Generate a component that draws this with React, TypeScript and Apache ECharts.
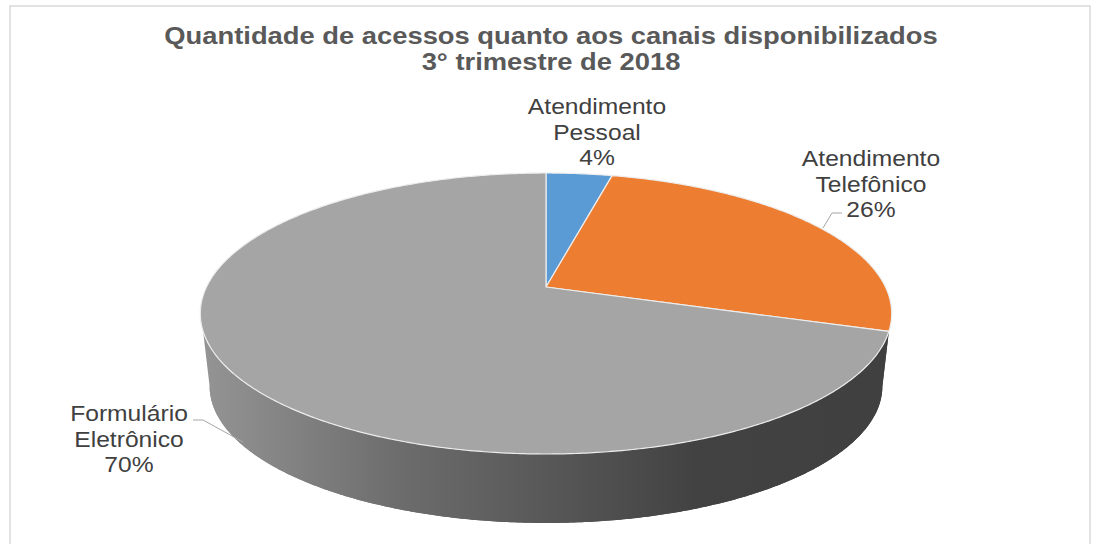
import React, { useEffect, useRef } from "react";
import * as echarts from "echarts";

const categories = ["Atendimento\nPessoal", "Atendimento\nTelefônico", "Formulário\nEletrônico"];
const values = [3.7, 26.3, 70];
const sliceColors = ["#5B9BD5", "#ED7D31", "#A5A5A5"];
const titleLines = ["Quantidade de acessos quanto aos canais disponibilizados", "3° trimestre de 2018"];

// Layout of the tilted disc (projective map of a circle)
const CX = 546, APEX_Y = 287, RX = 339.5, RY = 135.5, K = 0.1886;
const DROP_Y = 73.5, DROP_SCALE = 0.973;
const FRONT_FROM = 108, FRONT_TO = 252, FOOT_FROM = 101, FOOT_TO = 259;

const labelPlaces = [
  { x: 597, y: 132 },
  { x: 871, y: 184 },
  { x: 129, y: 439 },
];
const leaderLines = [
  null,
  [[823, 228], [832, 213], [842, 213]],
  [[193, 420], [203, 420], [243, 442]],
];

const total = values.reduce((a, b) => a + b, 0);
const starts = values.map((_, i) => (values.slice(0, i).reduce((a, b) => a + b, 0) / total) * 360);

function project(deg: number, scale = 1, dy = 0): number[] {
  const t = (deg * Math.PI) / 180;
  const u = Math.sin(t), v = Math.cos(t), w = 1 + K * v;
  return [CX + (scale * RX * u) / w, APEX_Y + dy - (scale * RY * v) / w];
}

function arc(from: number, to: number, scale = 1, dy = 0): number[][] {
  const steps = Math.max(2, Math.ceil(Math.abs(to - from) / 0.5));
  const pts: number[][] = [];
  for (let i = 0; i <= steps; i++) pts.push(project(from + ((to - from) * i) / steps, scale, dy));
  return pts;
}

const renderItem = (params: any, api: any) => {
  const i = params.dataIndex;
  const start = starts[i];
  const end = start + (api.value(0) / total) * 360;
  const children: any[] = [];

  const a = Math.max(start, FRONT_FROM), b = Math.min(end, FRONT_TO);
  if (b > a) {
    children.push({
      type: "polygon",
      shape: { points: [...arc(a, b), ...arc(FOOT_TO, FOOT_FROM, DROP_SCALE, DROP_Y)] },
      style: {
        fill: new echarts.graphic.LinearGradient(0, 0, 1, 0, [
          { offset: 0, color: "#949494" },
          { offset: 0.29, color: "#6C6C6C" },
          { offset: 0.5, color: "#585858" },
          { offset: 0.72, color: "#424242" },
          { offset: 1, color: "#404040" },
        ]),
      },
    });
  }
  children.push({
    type: "polygon",
    shape: { points: [[CX, APEX_Y], ...arc(start, end)] },
    style: { fill: sliceColors[i], stroke: "#EDEDED", lineWidth: 1.2, lineJoin: "round" },
  });
  const leader = leaderLines[i];
  if (leader) {
    children.push({
      type: "polyline",
      shape: { points: leader },
      style: { fill: "none", stroke: "#A6A6A6", lineWidth: 1 },
    });
  }
  children.push({
    type: "text",
    x: labelPlaces[i].x,
    y: labelPlaces[i].y,
    scaleX: 1.12,
    style: {
      text: `${categories[i]}\n${Math.round(api.value(0))}%`,
      fill: "#404040",
      fontFamily: "Liberation Sans",
      fontSize: 22,
      lineHeight: 25.5,
      align: "center",
      verticalAlign: "middle",
    },
  });
  return { type: "group", children };
};

export default function App() {
  const ref = useRef<HTMLDivElement>(null);
  useEffect(() => {
    const chart = echarts.init(ref.current!, null, { renderer: "svg" });
    chart.setOption({
      animation: false,
      backgroundColor: "#FFFFFF",
      graphic: [
        {
          type: "rect",
          shape: { x: 10, y: 6, width: 1080, height: 600 },
          style: { fill: "none", stroke: "#D9D9D9", lineWidth: 1.5 },
          silent: true,
        },
        ...titleLines.map((line, i) => ({
          type: "text",
          x: 551,
          y: 36 + i * 26,
          scaleX: 1.14,
          style: {
            text: line,
            fill: "#595959",
            fontFamily: "Liberation Sans",
            fontWeight: "bold",
            fontSize: 24,
            align: "center",
            verticalAlign: "middle",
          },
        })),
      ],
      series: [
        {
          type: "custom",
          coordinateSystem: "none",
          silent: true,
          clip: false,
          data: values.map((v) => [v]),
          renderItem,
        },
      ],
    });
    return () => chart.dispose();
  }, []);
  return <div ref={ref} style={{ position: "absolute", left: 0, top: 0, width: 1097, height: 544 }} />;
}
